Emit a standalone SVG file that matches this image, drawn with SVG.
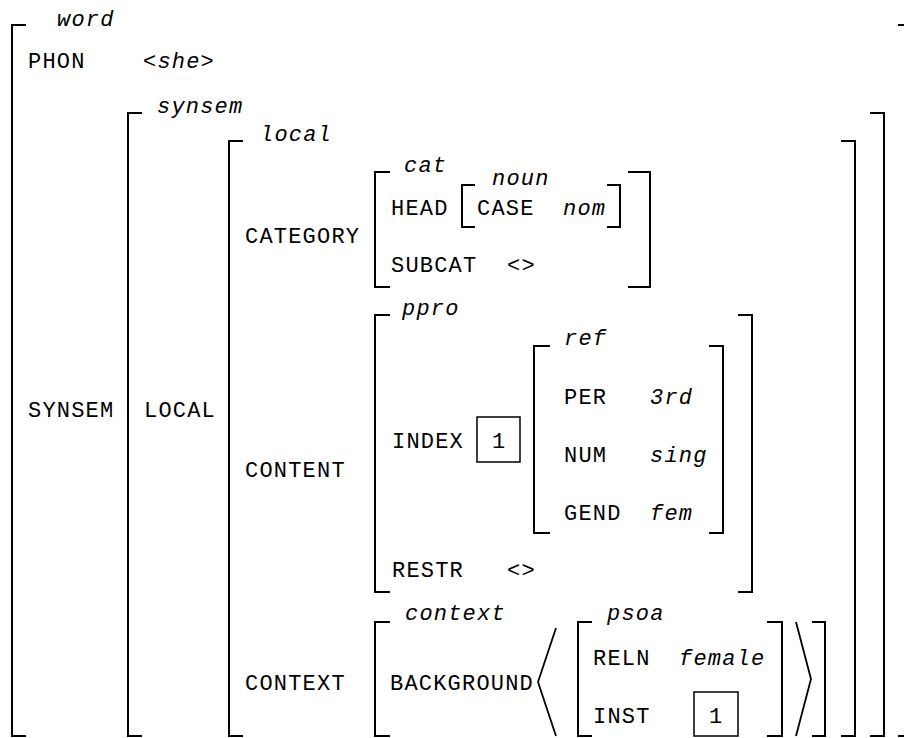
<svg xmlns="http://www.w3.org/2000/svg" width="904" height="738" viewBox="0 0 904 738">
<style>
text{font-family:"Liberation Mono","Courier New",monospace;font-size:22px;letter-spacing:1.2px;fill:#000}
.t{font-style:italic}
.br{fill:none;stroke:#000;stroke-width:2}
.tag{fill:none;stroke:#000;stroke-width:1.5}
.ang{fill:none;stroke:#000;stroke-width:1.8}
</style>
<rect width="904" height="738" fill="#fff"/>
<g id="connectors">
<path class="ang" d="M556,628 L538,682 L556,736"/>
<path class="ang" d="M796,622 L811,679 L796,736"/>
</g>
<g id="word">
<path class="br" d="M26,25 H12 V736 H26"/>
<path class="br" d="M898,25 H912 V736 H898"/>
<text class="t" x="57" y="26">word</text>
<text x="28" y="68">PHON</text>
<text class="t" x="143" y="68">&lt;she&gt;</text>
<text x="28" y="417">SYNSEM</text>
</g>
<g id="synsem">
<path class="br" d="M142,113 H128 V736 H142"/>
<path class="br" d="M870,113 H884 V736 H870"/>
<text class="t" x="157" y="113">synsem</text>
<text x="144" y="417">LOCAL</text>
</g>
<g id="local">
<path class="br" d="M243,141 H229 V736 H243"/>
<path class="br" d="M841,141 H855 V736 H841"/>
<text class="t" x="260" y="141">local</text>
<text x="245" y="243">CATEGORY</text>
<text x="245" y="477">CONTENT</text>
<text x="245" y="690">CONTEXT</text>
</g>
<g id="cat">
<path class="br" d="M390,172 H375 V287 H390"/>
<path class="br" d="M628,172 H650 V287 H628"/>
<text class="t" x="404" y="172">cat</text>
<text x="391" y="215">HEAD</text>
<text x="391" y="272">SUBCAT</text>
<text x="507" y="272">&lt;&gt;</text>
</g>
<g id="noun">
<path class="br" d="M475,185 H462 V227 H475"/>
<path class="br" d="M607,185 H620 V227 H607"/>
<text class="t" x="492" y="185">noun</text>
<text x="477" y="215">CASE</text>
<text class="t" x="563" y="215">nom</text>
</g>
<g id="ppro">
<path class="br" d="M390,315 H375 V592 H390"/>
<path class="br" d="M738,315 H752 V592 H738"/>
<text class="t" x="402" y="315">ppro</text>
<text x="392" y="448">INDEX</text>
<text x="392" y="577">RESTR</text>
<text x="507" y="577">&lt;&gt;</text>
</g>
<g id="tag1a">
<rect class="tag" x="477" y="417" width="43" height="45"/>
<text x="492" y="448">1</text>
</g>
<g id="ref">
<path class="br" d="M550,346 H534 V533 H550"/>
<path class="br" d="M709,346 H723 V533 H709"/>
<text class="t" x="564" y="345">ref</text>
<text x="564" y="404">PER</text>
<text class="t" x="650" y="404">3rd</text>
<text x="564" y="462">NUM</text>
<text class="t" x="650" y="462">sing</text>
<text x="564" y="520">GEND</text>
<text class="t" x="650" y="520">fem</text>
</g>
<g id="context">
<path class="br" d="M390,622 H375 V736 H390"/>
<path class="br" d="M812,622 H825 V736 H812"/>
<text class="t" x="405" y="620">context</text>
<text x="390" y="690">BACKGROUND</text>
</g>
<g id="psoa">
<path class="br" d="M592,622 H578 V736 H592"/>
<path class="br" d="M767,622 H782 V736 H767"/>
<text class="t" x="607" y="620">psoa</text>
<text x="593" y="665">RELN</text>
<text class="t" x="679" y="665">female</text>
<text x="593" y="723">INST</text>
</g>
<g id="tag1b">
<rect class="tag" x="694" y="692" width="44" height="44"/>
<text x="709" y="723">1</text>
</g>
</svg>
